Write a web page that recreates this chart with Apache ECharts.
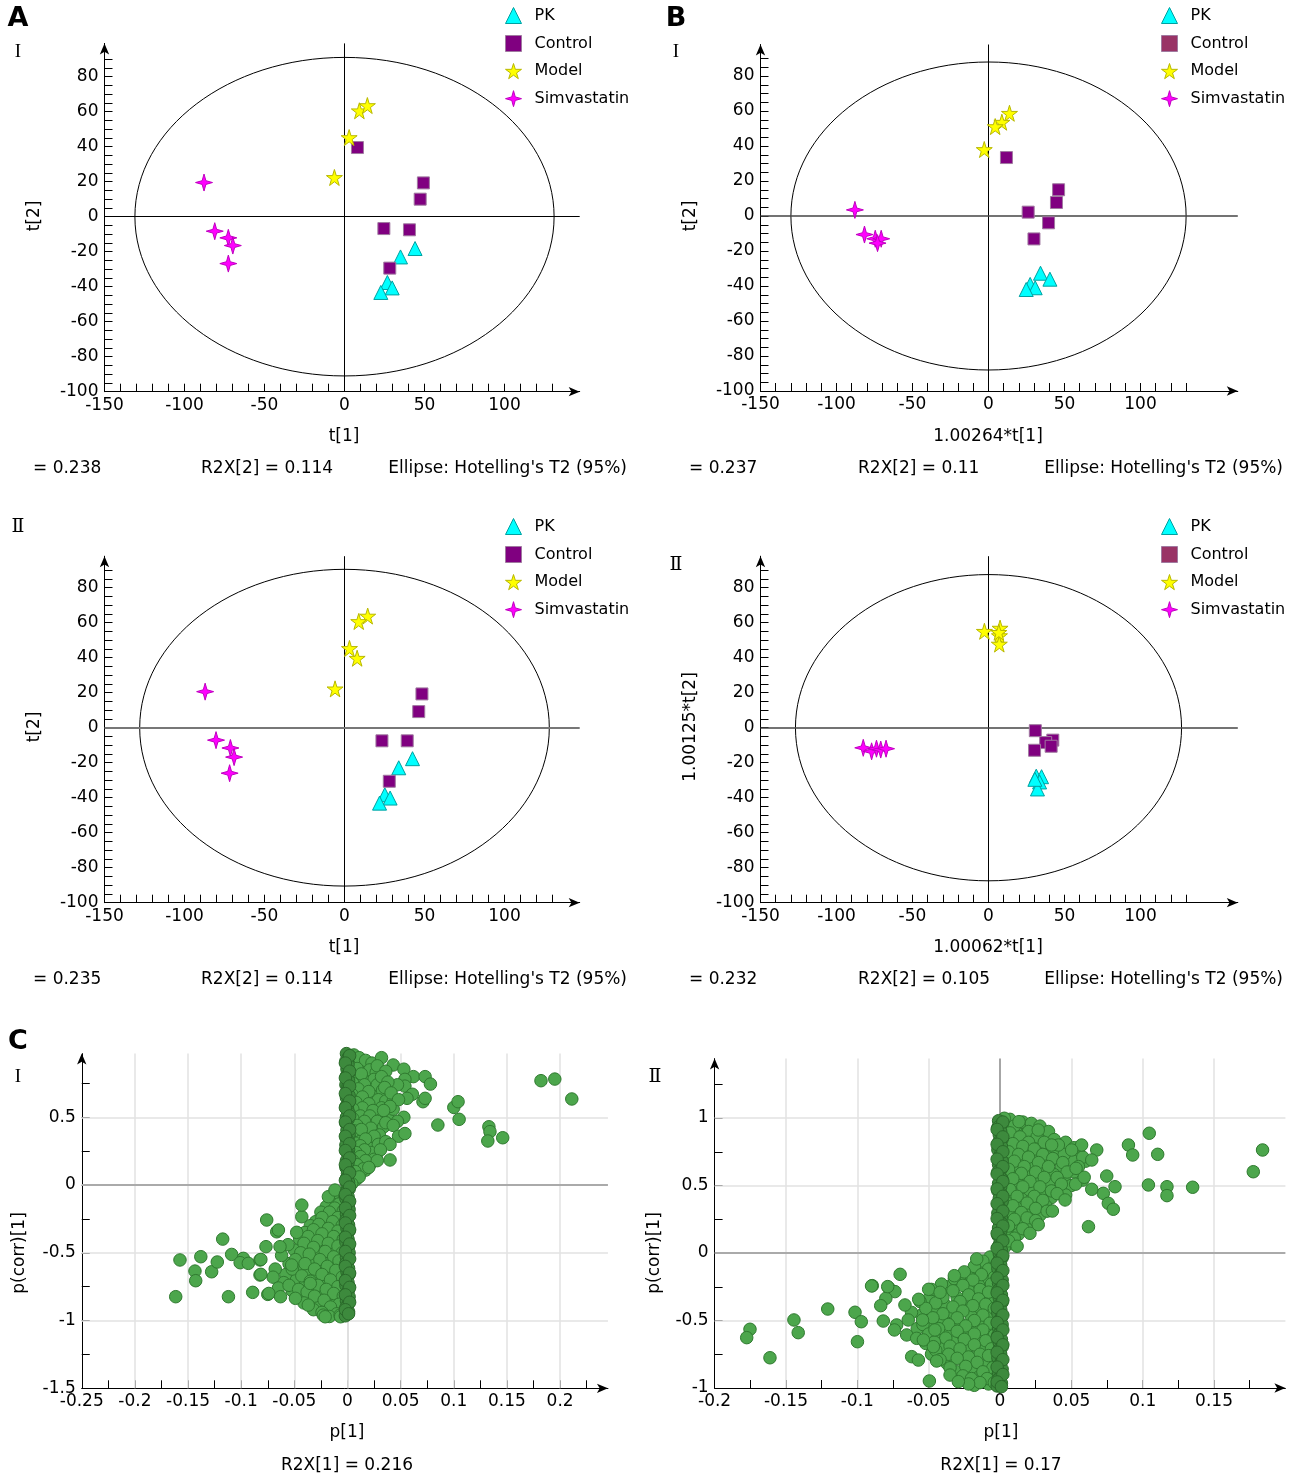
<!DOCTYPE html>
<html>
<head>
<meta charset="utf-8">
<script src="https://cdn.jsdelivr.net/npm/echarts@6/dist/echarts.min.js"></script>
<style>
  html, body { margin: 0; padding: 0; background: #fff; }
  #chart { width: 1296px; height: 1479px; }
</style>
</head>
<body>
<div id="chart"></div>
<script>
// score plots: [t1, t2] per group
const pkA1 = [[44.1, -18.2], [35, -23], [26.8, -37.6], [29.8, -40.7], [22.7, -43.3]];
const controlA1 = [[8.1, 39.5], [49.3, 19.3], [47.3, 10], [24.6, -6.8], [40.6, -7.5], [28.3, -29.4]];
const modelA1 = [[9.3, 60.5], [14.3, 63.5], [2.9, 45.2], [-6.3, 22.4]];
const simvaA1 = [[-87.8, 19.5], [-81.1, -8.3], [-72.6, -12.1], [-69.8, -16.5], [-72.6, -26.8]];

const pkB1 = [[34.2, -32.7], [40.4, -36.1], [27.4, -39.1], [30.7, -41], [24.8, -42]];
const controlB1 = [[11.8, 33.4], [46.1, 15], [44.7, 7.7], [26.1, 2.2], [39.5, -3.9], [29.9, -13.1]];
const modelB1 = [[13.8, 58.7], [8.8, 53.6], [4.4, 51.1], [-2.8, 38]];
const simvaB1 = [[-87.9, 3.5], [-81.6, -10.6], [-74.5, -13], [-70.6, -13], [-73, -15.5]];

const pkA2 = [[42.5, -17.7], [33.9, -22.9], [25.2, -38.3], [28.5, -40.2], [21.9, -43.1]];
const controlA2 = [[48.4, 19.3], [46.4, 9.2], [23.4, -7.5], [39.2, -7.5], [28, -30.6]];
const modelA2 = [[14.5, 63.8], [8.9, 60.7], [3.1, 45.3], [7.9, 39.7], [-5.9, 22.2]];
const simvaA2 = [[-87.1, 20.6], [-80.3, -7.1], [-71.3, -11.6], [-69, -16.8], [-71.8, -26]];

const pkB2 = [[31.4, -27.7], [34.9, -28], [33.6, -31], [32.2, -35], [30.5, -29.5]];
const controlB2 = [[30.8, -1.7], [42.3, -7.1], [37.6, -8.5], [41.2, -10.6], [30.3, -12.9]];
const modelB2 = [[-2.7, 55.1], [7.6, 56.9], [7.2, 52.6], [7.1, 47.8], [6.8, 54.5]];
const simvaB2 = [[-82.4, -11.5], [-76.9, -13.5], [-73.7, -12], [-70.9, -12.5], [-67.4, -12]];

// Hotelling T2 ellipse half-axes [t1, t2]
const ellipseA1 = [131, 91];
const ellipseB1 = [130, 88];
const ellipseA2 = [128, 90.5];
const ellipseB2 = [127, 87.5];

const scoreXTicks = [-150, -140, -130, -120, -110, -100, -90, -80, -70, -60, -50, -40, -30, -20, -10, 0, 10, 20, 30, 40, 50, 60, 70, 80, 90, 100, 110, 120, 130];
const scoreXLabels = [-150, -100, -50, 0, 50, 100];
const scoreYTicks = [-100, -95, -90, -85, -80, -75, -70, -65, -60, -55, -50, -45, -40, -35, -30, -25, -20, -15, -10, -5, 0, 5, 10, 15, 20, 25, 30, 35, 40, 45, 50, 55, 60, 65, 70, 75, 80, 85, 90];
const scoreYLabels = [-100, -80, -60, -40, -20, 0, 20, 40, 60, 80];

// S-plots: [p[1], p(corr)[1]]
const sColumnI = [[-0.001, 0.97], [0.001, 0.945], [-0.0015, 0.915], [0.0005, 0.89], [-0.0005, 0.855], [0.0015, 0.83], [-0.001, 0.805], [0.001, 0.77], [-0.0015, 0.74], [0.0005, 0.725], [-0.0005, 0.69], [0.0015, 0.66], [-0.001, 0.645], [0.001, 0.61], [-0.0015, 0.58], [0, 0.565], [0.0015, 0.53], [-0.001, 0.5], [0.0005, 0.485], [-0.0015, 0.455], [0.001, 0.42], [-0.0005, 0.405], [0.0015, 0.37], [-0.001, 0.34], [0.0005, 0.325], [-0.0015, 0.295], [0.001, 0.26], [-0.0005, 0.245], [0.0015, 0.21], [-0.001, 0.18], [0.0005, 0.165], [-0.0015, 0.13], [0.001, 0.1], [0, 0.085], [-0.001, 0.05], [0.001, 0.02], [-0.0005, 0.005], [0.0015, -0.03], [-0.001, -0.05], [0.0005, -0.085], [-0.0015, -0.1], [0.001, -0.135], [-0.0005, -0.16], [0.0015, -0.18], [-0.001, -0.215], [0.0005, -0.24], [-0.0015, -0.26], [0.001, -0.295], [-0.0005, -0.32], [0.0015, -0.34], [-0.001, -0.375], [0.0005, -0.4], [-0.0015, -0.42], [0.001, -0.455], [-0.0005, -0.48], [0.0015, -0.5], [-0.001, -0.535], [0.0005, -0.56], [-0.0015, -0.58], [0.001, -0.615], [-0.0005, -0.64], [0.0015, -0.66], [-0.001, -0.695], [0.0005, -0.72], [-0.0015, -0.74], [0.001, -0.775], [-0.0005, -0.8], [0.0015, -0.825], [-0.001, -0.855], [0.0005, -0.88], [-0.0015, -0.905], [0.001, -0.935], [-0.002, -0.965]];
const sColumnI2 = [[0.002, 0.955], [-0.002, 0.9], [0.002, 0.84], [-0.002, 0.79], [0.002, 0.73], [-0.002, 0.675], [0.002, 0.62], [-0.002, 0.57], [0.002, 0.51], [-0.002, 0.465], [0.002, 0.41], [-0.002, 0.36], [0.002, 0.305], [-0.002, 0.255], [0.002, 0.2], [-0.002, 0.15], [0.002, 0.09], [-0.002, 0.035], [0.002, -0.015], [-0.002, -0.07], [0.002, -0.12], [-0.002, -0.17], [0.002, -0.225], [-0.002, -0.28], [0.002, -0.33], [-0.002, -0.385], [0.002, -0.435], [-0.002, -0.49], [0.002, -0.545], [-0.002, -0.6], [0.002, -0.65], [-0.002, -0.705], [0.002, -0.755], [-0.002, -0.81], [0.002, -0.865], [-0.002, -0.92], [0.001, -0.95]];
const sUpperI = [[0.004, 0.95], [0.008, 0.93], [0.012, 0.9], [0.006, 0.88], [0.016, 0.87], [0.01, 0.84], [0.004, 0.82], [0.014, 0.8], [0.02, 0.82], [0.007, 0.78], [0.018, 0.76], [0.011, 0.74], [0.004, 0.72], [0.022, 0.72], [0.015, 0.7], [0.008, 0.68], [0.026, 0.69], [0.019, 0.66], [0.005, 0.64], [0.012, 0.62], [0.024, 0.63], [0.03, 0.66], [0.017, 0.6], [0.007, 0.58], [0.021, 0.57], [0.028, 0.59], [0.011, 0.55], [0.004, 0.53], [0.016, 0.52], [0.025, 0.53], [0.009, 0.5], [0.02, 0.48], [0.03, 0.5], [0.006, 0.46], [0.013, 0.45], [0.024, 0.44], [0.004, 0.42], [0.018, 0.41], [0.009, 0.39], [0.027, 0.4], [0.014, 0.37], [0.021, 0.35], [0.005, 0.35], [0.011, 0.32], [0.026, 0.33], [0.017, 0.3], [0.007, 0.28], [0.022, 0.27], [0.013, 0.25], [0.004, 0.24], [0.019, 0.22], [0.009, 0.2], [0.027, 0.22], [0.014, 0.17], [0.021, 0.15], [0.006, 0.14], [0.011, 0.1], [0.017, 0.11], [0.005, 0.07], [0.008, 0.04]];
const sUpperI2 = [[0.006, 0.96], [0.011, 0.94], [0.017, 0.92], [0.023, 0.9], [0.009, 0.86], [0.021, 0.85], [0.027, 0.83], [0.013, 0.82], [0.025, 0.78], [0.031, 0.76], [0.005, 0.75], [0.016, 0.74], [0.028, 0.74], [0.01, 0.71], [0.033, 0.7], [0.02, 0.69], [0.004, 0.67], [0.014, 0.65], [0.029, 0.63], [0.036, 0.62], [0.008, 0.61], [0.02, 0.6], [0.032, 0.57], [0.014, 0.57], [0.005, 0.56], [0.024, 0.55], [0.038, 0.52], [0.012, 0.51], [0.021, 0.51], [0.028, 0.47], [0.005, 0.49], [0.016, 0.47], [0.034, 0.43], [0.009, 0.44], [0.022, 0.42], [0.03, 0.37], [0.006, 0.4], [0.013, 0.41], [0.025, 0.36], [0.017, 0.34], [0.007, 0.31], [0.029, 0.3], [0.012, 0.29], [0.022, 0.24], [0.016, 0.26], [0.008, 0.24], [0.025, 0.19], [0.012, 0.21], [0.005, 0.18], [0.017, 0.18], [0.009, 0.15], [0.015, 0.12], [0.007, 0.1], [0.011, 0.06], [0.004, 0.01]];
const sFringeI = [[0.032, 0.94], [0.043, 0.886], [0.053, 0.855], [0.062, 0.8], [0.054, 0.78], [0.054, 0.73], [0.047, 0.74], [0.061, 0.67], [0.056, 0.64], [0.043, 0.62], [0.043, 0.56], [0.053, 0.5], [0.047, 0.47], [0.036, 0.32], [0.028, 0.88], [0.036, 0.84], [0.032, 0.8], [0.038, 0.76], [0.035, 0.72], [0.041, 0.68], [0.048, 0.63], [0.04, 0.58], [0.034, 0.55], [0.036, 0.46], [0.043, 0.44], [0.048, 0.36], [0.054, 0.38], [0.04, 0.3], [0.031, 0.26], [0.04, 0.185], [0.028, 0.18], [0.02, 0.13], [0.073, 0.8], [0.078, 0.745], [0.071, 0.615], [0.073, 0.64], [0.085, 0.443], [0.1, 0.573], [0.104, 0.615], [0.105, 0.485], [0.133, 0.43], [0.134, 0.394], [0.132, 0.325], [0.146, 0.349], [0.182, 0.77], [0.195, 0.782], [0.211, 0.635]];
const sLowerI = [[-0.005, -0.06], [-0.009, -0.11], [-0.004, -0.15], [-0.014, -0.14], [-0.02, -0.16], [-0.007, -0.2], [-0.012, -0.22], [-0.025, -0.2], [-0.018, -0.25], [-0.004, -0.26], [-0.03, -0.27], [-0.01, -0.29], [-0.022, -0.31], [-0.035, -0.3], [-0.015, -0.34], [-0.006, -0.36], [-0.028, -0.36], [-0.04, -0.35], [-0.019, -0.39], [-0.033, -0.41], [-0.01, -0.42], [-0.045, -0.4], [-0.024, -0.44], [-0.004, -0.46], [-0.038, -0.46], [-0.015, -0.48], [-0.029, -0.5], [-0.05, -0.48], [-0.008, -0.52], [-0.02, -0.54], [-0.042, -0.53], [-0.034, -0.56], [-0.012, -0.57], [-0.026, -0.59], [-0.055, -0.58], [-0.005, -0.61], [-0.046, -0.62], [-0.018, -0.63], [-0.037, -0.65], [-0.009, -0.66], [-0.03, -0.68], [-0.058, -0.66], [-0.022, -0.7], [-0.048, -0.7], [-0.004, -0.72], [-0.014, -0.74], [-0.04, -0.74], [-0.032, -0.77], [-0.007, -0.78], [-0.025, -0.8], [-0.052, -0.78], [-0.017, -0.83], [-0.044, -0.82], [-0.004, -0.85], [-0.035, -0.85], [-0.011, -0.88], [-0.028, -0.89], [-0.02, -0.92], [-0.006, -0.92], [-0.014, -0.95], [-0.06, -0.72], [-0.068, -0.62], [-0.062, -0.52], [-0.056, -0.44], [-0.07, -0.68], [-0.065, -0.76]];
const sLowerI2 = [[-0.003, -0.1], [-0.008, -0.14], [-0.012, -0.17], [-0.004, -0.19], [-0.017, -0.2], [-0.009, -0.24], [-0.024, -0.24], [-0.014, -0.27], [-0.005, -0.3], [-0.027, -0.29], [-0.018, -0.32], [-0.032, -0.33], [-0.009, -0.34], [-0.024, -0.36], [-0.013, -0.38], [-0.037, -0.38], [-0.004, -0.4], [-0.028, -0.41], [-0.018, -0.43], [-0.041, -0.43], [-0.009, -0.45], [-0.032, -0.46], [-0.021, -0.49], [-0.044, -0.5], [-0.005, -0.5], [-0.013, -0.53], [-0.036, -0.51], [-0.026, -0.55], [-0.049, -0.55], [-0.008, -0.56], [-0.019, -0.6], [-0.04, -0.58], [-0.031, -0.62], [-0.052, -0.62], [-0.011, -0.63], [-0.024, -0.66], [-0.043, -0.67], [-0.005, -0.68], [-0.016, -0.7], [-0.035, -0.71], [-0.028, -0.74], [-0.055, -0.74], [-0.009, -0.75], [-0.02, -0.77], [-0.046, -0.77], [-0.038, -0.79], [-0.013, -0.8], [-0.031, -0.82], [-0.004, -0.82], [-0.022, -0.85], [-0.041, -0.87], [-0.008, -0.88], [-0.016, -0.9], [-0.032, -0.92], [-0.024, -0.94], [-0.01, -0.95], [-0.017, -0.97]];
const sTailI = [[-0.1576, -0.553], [-0.1616, -0.824], [-0.138, -0.529], [-0.1435, -0.635], [-0.1428, -0.706], [-0.1278, -0.64], [-0.1225, -0.568], [-0.1174, -0.399], [-0.112, -0.824], [-0.109, -0.512], [-0.098, -0.541], [-0.101, -0.573], [-0.0933, -0.578], [-0.0892, -0.792], [-0.0823, -0.553], [-0.0823, -0.664], [-0.076, -0.258], [-0.0767, -0.455], [-0.075, -0.807], [-0.0666, -0.345], [-0.0635, -0.455], [-0.0525, -0.59], [-0.049, -0.836], [-0.0478, -0.349], [-0.043, -0.234], [-0.043, -0.148], [-0.0369, -0.886], [-0.0228, -0.96], [-0.007, -0.96], [-0.018, -0.086], [-0.0118, -0.037], [-0.065, -0.332], [-0.0815, -0.549], [-0.0815, -0.659], [-0.074, -0.8], [-0.063, -0.824], [-0.035, -0.726], [-0.021, -0.972], [-0.0065, -0.972]];

const sColumnII = [[-0.001, 0.98], [0.001, 0.955], [-0.0015, 0.93], [0.0005, 0.9], [-0.0005, 0.875], [0.0015, 0.845], [-0.001, 0.82], [0.001, 0.79], [-0.0015, 0.765], [0.0005, 0.735], [-0.0005, 0.71], [0.0015, 0.68], [-0.001, 0.655], [0.001, 0.625], [-0.0015, 0.6], [0, 0.57], [0.0015, 0.545], [-0.001, 0.515], [0.0005, 0.49], [-0.0015, 0.46], [0.001, 0.435], [-0.0005, 0.405], [0.0015, 0.38], [-0.001, 0.35], [0.0005, 0.325], [-0.0015, 0.295], [0.001, 0.27], [-0.0005, 0.24], [0.0015, 0.215], [-0.001, 0.185], [0.0005, 0.16], [-0.0015, 0.13], [0.001, 0.105], [0, 0.075], [-0.001, 0.05], [0.001, 0.02], [-0.0005, -0.005], [0.0015, -0.035], [-0.001, -0.06], [0.0005, -0.09], [-0.0015, -0.115], [0.001, -0.145], [-0.0005, -0.17], [0.0015, -0.2], [-0.001, -0.225], [0.0005, -0.255], [-0.0015, -0.28], [0.001, -0.31], [-0.0005, -0.335], [0.0015, -0.365], [-0.001, -0.39], [0.0005, -0.42], [-0.0015, -0.445], [0.001, -0.475], [-0.0005, -0.5], [0.0015, -0.53], [-0.001, -0.555], [0.0005, -0.585], [-0.0015, -0.61], [0.001, -0.64], [-0.0005, -0.665], [0.0015, -0.695], [-0.001, -0.72], [0.0005, -0.75], [-0.0015, -0.775], [0.001, -0.805], [-0.0005, -0.83], [0.0015, -0.86], [-0.001, -0.885], [0.0005, -0.915], [-0.0015, -0.94], [0.001, -0.965], [-0.002, -0.985]];
const sColumnII2 = [[0.002, 0.97], [-0.002, 0.915], [0.002, 0.86], [-0.002, 0.805], [0.002, 0.75], [-0.002, 0.695], [0.002, 0.64], [-0.002, 0.585], [0.002, 0.53], [-0.002, 0.475], [0.002, 0.42], [-0.002, 0.365], [0.002, 0.31], [-0.002, 0.255], [0.002, 0.2], [-0.002, 0.145], [0.002, 0.09], [-0.002, 0.035], [0.002, -0.02], [-0.002, -0.075], [0.002, -0.13], [-0.002, -0.185], [0.002, -0.24], [-0.002, -0.295], [0.002, -0.35], [-0.002, -0.405], [0.002, -0.46], [-0.002, -0.515], [0.002, -0.57], [-0.002, -0.625], [0.002, -0.68], [-0.002, -0.735], [0.002, -0.79], [-0.002, -0.845], [0.002, -0.9], [-0.002, -0.955], [0.001, -0.99]];
const sUpperII = [[0.004, 0.97], [0.009, 0.96], [0.014, 0.95], [0.02, 0.93], [0.025, 0.9], [0.006, 0.92], [0.012, 0.89], [0.018, 0.88], [0.03, 0.88], [0.004, 0.86], [0.009, 0.84], [0.016, 0.83], [0.023, 0.84], [0.035, 0.8], [0.042, 0.8], [0.028, 0.79], [0.005, 0.79], [0.012, 0.77], [0.02, 0.76], [0.033, 0.75], [0.048, 0.76], [0.055, 0.74], [0.04, 0.72], [0.026, 0.71], [0.008, 0.72], [0.015, 0.69], [0.035, 0.68], [0.05, 0.69], [0.06, 0.68], [0.004, 0.66], [0.021, 0.65], [0.043, 0.64], [0.011, 0.62], [0.03, 0.61], [0.052, 0.6], [0.038, 0.58], [0.006, 0.58], [0.018, 0.57], [0.045, 0.55], [0.025, 0.54], [0.058, 0.54], [0.012, 0.52], [0.034, 0.51], [0.05, 0.5], [0.004, 0.5], [0.042, 0.47], [0.02, 0.47], [0.028, 0.44], [0.008, 0.44], [0.036, 0.41], [0.015, 0.4], [0.046, 0.43], [0.024, 0.37], [0.005, 0.37], [0.032, 0.35], [0.012, 0.33], [0.02, 0.3], [0.028, 0.28], [0.006, 0.28], [0.016, 0.24], [0.022, 0.2], [0.009, 0.2], [0.013, 0.14], [0.005, 0.13], [0.008, 0.07], [0.003, 0.04]];
const sUpperII2 = [[0.007, 0.99], [0.016, 0.97], [0.022, 0.96], [0.028, 0.94], [0.01, 0.94], [0.02, 0.9], [0.034, 0.9], [0.007, 0.89], [0.014, 0.86], [0.026, 0.86], [0.038, 0.84], [0.02, 0.82], [0.046, 0.82], [0.031, 0.82], [0.009, 0.81], [0.016, 0.79], [0.039, 0.77], [0.024, 0.77], [0.052, 0.78], [0.006, 0.75], [0.03, 0.73], [0.045, 0.73], [0.013, 0.73], [0.02, 0.71], [0.058, 0.71], [0.037, 0.7], [0.027, 0.67], [0.01, 0.68], [0.044, 0.67], [0.017, 0.64], [0.034, 0.64], [0.055, 0.64], [0.006, 0.62], [0.025, 0.6], [0.047, 0.6], [0.015, 0.59], [0.04, 0.56], [0.031, 0.56], [0.009, 0.55], [0.021, 0.53], [0.053, 0.51], [0.043, 0.51], [0.028, 0.49], [0.016, 0.49], [0.007, 0.47], [0.036, 0.46], [0.024, 0.42], [0.04, 0.44], [0.012, 0.42], [0.03, 0.39], [0.019, 0.37], [0.009, 0.35], [0.025, 0.33], [0.015, 0.3], [0.033, 0.31], [0.01, 0.25], [0.019, 0.26], [0.025, 0.24], [0.006, 0.2], [0.016, 0.18], [0.01, 0.11], [0.006, 0.09], [0.012, 0.05]];
const sFringeII = [[0.1046, 0.887], [0.09, 0.8], [0.093, 0.726], [0.1105, 0.731], [0.104, 0.504], [0.117, 0.491], [0.117, 0.425], [0.135, 0.487], [0.184, 0.763], [0.1775, 0.602], [0.062, 0.195], [0.0748, 0.57], [0.0806, 0.491], [0.0724, 0.442], [0.0759, 0.368], [0.0794, 0.324], [0.0678, 0.763], [0.0643, 0.689], [0.0643, 0.472], [0.059, 0.561], [0.0572, 0.8], [0.0502, 0.763], [0.0533, 0.627], [0.0409, 0.8], [0.0362, 0.8], [0.0456, 0.393], [0.0367, 0.311], [0.021, 0.146], [0.0268, 0.21], [0.0268, 0.911], [0.0133, 0.973], [0.003, 0.998]];
const sLowerII = [[-0.004, -0.05], [-0.01, -0.09], [-0.005, -0.14], [-0.016, -0.13], [-0.022, -0.17], [-0.009, -0.2], [-0.028, -0.21], [-0.015, -0.24], [-0.036, -0.25], [-0.004, -0.27], [-0.022, -0.28], [-0.044, -0.3], [-0.011, -0.31], [-0.03, -0.33], [-0.018, -0.35], [-0.05, -0.34], [-0.005, -0.37], [-0.039, -0.38], [-0.025, -0.4], [-0.013, -0.42], [-0.046, -0.42], [-0.033, -0.44], [-0.006, -0.45], [-0.02, -0.47], [-0.055, -0.46], [-0.04, -0.49], [-0.012, -0.5], [-0.028, -0.52], [-0.048, -0.53], [-0.004, -0.54], [-0.018, -0.56], [-0.036, -0.57], [-0.058, -0.56], [-0.009, -0.59], [-0.026, -0.61], [-0.044, -0.61], [-0.015, -0.64], [-0.033, -0.66], [-0.005, -0.67], [-0.052, -0.67], [-0.022, -0.69], [-0.04, -0.71], [-0.011, -0.72], [-0.03, -0.74], [-0.017, -0.77], [-0.048, -0.75], [-0.004, -0.79], [-0.025, -0.8], [-0.037, -0.82], [-0.01, -0.84], [-0.02, -0.87], [-0.03, -0.88], [-0.006, -0.9], [-0.015, -0.92], [-0.024, -0.95], [-0.008, -0.97], [-0.018, -0.98]];
const sLowerII2 = [[-0.007, -0.03], [-0.012, -0.06], [-0.018, -0.1], [-0.008, -0.12], [-0.025, -0.14], [-0.013, -0.16], [-0.004, -0.18], [-0.019, -0.2], [-0.032, -0.19], [-0.006, -0.23], [-0.026, -0.24], [-0.041, -0.23], [-0.014, -0.27], [-0.033, -0.28], [-0.048, -0.27], [-0.008, -0.29], [-0.022, -0.31], [-0.04, -0.33], [-0.015, -0.34], [-0.028, -0.36], [-0.056, -0.36], [-0.01, -0.38], [-0.045, -0.37], [-0.033, -0.4], [-0.019, -0.39], [-0.004, -0.41], [-0.052, -0.41], [-0.026, -0.43], [-0.04, -0.45], [-0.012, -0.46], [-0.062, -0.44], [-0.03, -0.48], [-0.047, -0.48], [-0.018, -0.5], [-0.007, -0.52], [-0.036, -0.53], [-0.024, -0.54], [-0.054, -0.53], [-0.012, -0.57], [-0.043, -0.56], [-0.03, -0.58], [-0.018, -0.6], [-0.05, -0.6], [-0.004, -0.61], [-0.038, -0.63], [-0.025, -0.64], [-0.01, -0.65], [-0.046, -0.66], [-0.018, -0.68], [-0.035, -0.69], [-0.028, -0.71], [-0.006, -0.71], [-0.045, -0.72], [-0.014, -0.75], [-0.036, -0.75], [-0.022, -0.77], [-0.008, -0.76], [-0.042, -0.79], [-0.03, -0.78], [-0.016, -0.81], [-0.035, -0.85], [-0.024, -0.84], [-0.005, -0.85], [-0.012, -0.88], [-0.026, -0.91], [-0.02, -0.93], [-0.009, -0.93], [-0.014, -0.96], [-0.004, -0.96], [-0.022, -0.97]];
const sTailII = [[-0.0163, -0.044], [-0.032, -0.168], [-0.07, -0.158], [-0.0895, -0.242], [-0.078, -0.257], [-0.0736, -0.286], [-0.08, -0.336], [-0.0836, -0.39], [-0.05, -0.269], [-0.042, -0.291], [-0.057, -0.343], [-0.0666, -0.385], [-0.0818, -0.504], [-0.0724, -0.533], [-0.074, -0.57], [-0.0654, -0.607], [-0.0584, -0.632], [-0.0537, -0.644], [-0.0619, -0.768], [-0.0572, -0.793], [-0.0495, -0.948], [-0.0444, -0.8], [-0.035, -0.904], [-0.0292, -0.953], [-0.0467, -0.694], [-0.0456, -0.57], [-0.0643, -0.496], [-0.0543, -0.496], [-0.1016, -0.439], [-0.0972, -0.509], [-0.0999, -0.657], [-0.1207, -0.415], [-0.1444, -0.496], [-0.1414, -0.59], [-0.1612, -0.776], [-0.1752, -0.565], [-0.1775, -0.627], [-0.09, -0.244], [-0.0787, -0.249]];

const sXTicksI = [-0.25, -0.225, -0.2, -0.175, -0.15, -0.125, -0.1, -0.075, -0.05, -0.025, 0, 0.025, 0.05, 0.075, 0.1, 0.125, 0.15, 0.175, 0.2, 0.225];
const sXLabelsI = [-0.25, -0.2, -0.15, -0.1, -0.05, 0, 0.05, 0.1, 0.15, 0.2];
const sYTicksI = [-1.5, -1.25, -1, -0.75, -0.5, -0.25, 0, 0.25, 0.5, 0.75];
const sYLabelsI = [-1.5, -1, -0.5, 0, 0.5];
const sXTicksII = [-0.2, -0.175, -0.15, -0.125, -0.1, -0.075, -0.05, -0.025, 0, 0.025, 0.05, 0.075, 0.1, 0.125, 0.15, 0.175];
const sXLabelsII = [-0.2, -0.15, -0.1, -0.05, 0, 0.05, 0.1, 0.15];
const sYTicksII = [-1, -0.75, -0.5, -0.25, 0, 0.25, 0.5, 0.75, 1, 1.25];
const sYLabelsII = [-1, -0.5, 0, 0.5, 1];
const sGridXI = [-0.2, -0.15, -0.1, -0.05, 0, 0.05, 0.1, 0.15, 0.2];
const sGridYI = [0.5, -0.5, -1];
const sGridXII = [-0.15, -0.1, -0.05, 0.05, 0.1, 0.15];
const sGridYII = [1, 0.5, -0.5];

const FONT = '"DejaVu Sans", Verdana, sans-serif';
const SERIF = '"Liberation Serif", "DejaVu Serif", "Noto Sans CJK SC", serif';
const STAR5 = 'path://M50,0L61,35L98,35L68,57L79,91L50,70L21,91L32,57L2,35L39,35Z';
const STAR4 = 'path://M50,0L61,39L100,50L61,61L50,100L39,61L0,50L39,39Z';

const groups = [
    { name: 'PK', symbol: 'triangle', size: 14, color: '#00ffff', border: '#00a0a0' },
    { name: 'Control', symbol: 'rect', size: 12, color: '#800080', border: '#a07aa0' },
    { name: 'Model', symbol: STAR5, size: 16, color: '#ffff00', border: '#b8b800' },
    { name: 'Simvastatin', symbol: STAR4, size: 17, color: '#ff00ff', border: '#c000c0' }
];

const scorePanels = [
    { grid: { left: 104.5, top: 43.4, width: 475.2, height: 348.3 }, xMax: 147, yMax: 99,
      data: [pkA1, controlA1, modelA1, simvaA1], ellipse: ellipseA1, hLine: { color: '#000', width: 1 } },
    { grid: { left: 760.5, top: 44.5, width: 477.3, height: 346.5 }, xMax: 164, yMax: 98,
      data: [pkB1, controlB1, modelB1, simvaB1], ellipse: ellipseB1, hLine: { color: '#444', width: 1.5 } },
    { grid: { left: 104.5, top: 556.2, width: 475.2, height: 346.5 }, xMax: 147, yMax: 98,
      data: [pkA2, controlA2, modelA2, simvaA2], ellipse: ellipseA2, hLine: { color: '#777', width: 2 } },
    { grid: { left: 760.5, top: 556.2, width: 477.3, height: 346.5 }, xMax: 164, yMax: 98,
      data: [pkB2, controlB2, modelB2, simvaB2], ellipse: ellipseB2, hLine: { color: '#444', width: 1.5 } }
];

const sPanels = [
    { grid: { left: 81.75, top: 1053.6, width: 526.2, height: 334.7 }, x: [-0.25, 0.245], y: [-1.5, 0.97],
      ticks: [sXTicksI, sXLabelsI, sYTicksI, sYLabelsI], lines: [sGridXI, sGridYI], zeroX: '#dddddd',
      data: [].concat(sLowerI, sLowerI2, sTailI, sUpperI, sUpperI2, sFringeI),
      column: [].concat(sColumnI, sColumnI2) },
    { grid: { left: 714.6, top: 1058.6, width: 570.8, height: 329.4 }, x: [-0.2, 0.2], y: [-1, 1.44],
      ticks: [sXTicksII, sXLabelsII, sYTicksII, sYLabelsII], lines: [sGridXII, sGridYII], zeroX: '#888888',
      data: [].concat(sLowerII, sLowerII2, sTailII, sUpperII, sUpperII2, sFringeII),
      column: [].concat(sColumnII, sColumnII2) }
];

function axisPair(i, xr, yr, t) {
    const line = { show: true, onZero: false, symbol: ['none', 'arrow'], symbolSize: [7, 11], lineStyle: { color: '#000', width: 1 } };
    const label = { fontSize: 17, fontFamily: FONT, color: '#000', showMinLabel: true, showMaxLabel: true };
    return [
        { type: 'value', gridIndex: i, min: xr[0], max: xr[1], axisLine: line, splitLine: { show: false },
          axisTick: { show: true, inside: true, length: 8, customValues: t[0], lineStyle: { color: '#000' } },
          axisLabel: Object.assign({ customValues: t[1], margin: 5 }, label) },
        { type: 'value', gridIndex: i, min: yr[0], max: yr[1], axisLine: line, splitLine: { show: false },
          axisTick: { show: true, inside: true, length: 8, customValues: t[2], lineStyle: { color: '#000' } },
          axisLabel: Object.assign({ customValues: t[3], margin: 6 }, label) }
    ];
}

const grids = [], xAxes = [], yAxes = [], series = [];

scorePanels.forEach((p, i) => {
    grids.push(p.grid);
    const ax = axisPair(i, [-150, p.xMax], [-100, p.yMax], [scoreXTicks, scoreXLabels, scoreYTicks, scoreYLabels]);
    xAxes.push(ax[0]);
    yAxes.push(ax[1]);
    series.push({
        type: 'custom', xAxisIndex: i, yAxisIndex: i, z: 2, silent: true,
        data: [p.ellipse],
        renderItem: (params, api) => {
            const c = api.coord([0, 0]);
            const s = api.size([api.value(0), api.value(1)]);
            return { type: 'ellipse', shape: { cx: c[0], cy: c[1], rx: s[0], ry: s[1] },
                     style: { fill: 'none', stroke: '#000', lineWidth: 1 } };
        },
        markLine: {
            silent: true, symbol: ['none', 'none'], label: { show: false }, animation: false,
            lineStyle: { color: '#000', width: 1, type: 'solid' },
            data: [{ xAxis: 0 }, { yAxis: 0, lineStyle: Object.assign({ type: 'solid' }, p.hLine) }]
        }
    });
    groups.forEach((g, k) => {
        series.push({
            type: 'scatter', name: g.name, xAxisIndex: i, yAxisIndex: i, z: 6,
            data: p.data[k], symbol: g.symbol, symbolSize: g.size,
            itemStyle: { color: g.color, borderColor: g.border, borderWidth: 1, opacity: 1 }
        });
    });
});

sPanels.forEach((p, j) => {
    const i = scorePanels.length + j;
    grids.push(p.grid);
    const ax = axisPair(i, p.x, p.y, p.ticks);
    xAxes.push(ax[0]);
    yAxes.push(ax[1]);
    const light = { color: '#e2e2e2', width: 1.5, type: 'solid' };
    const lines = p.lines[0].map(v => ({ xAxis: v }))
        .concat(p.lines[1].map(v => ({ yAxis: v })))
        .concat([{ xAxis: 0, lineStyle: { color: p.zeroX, width: 1.5, type: 'solid' } },
                 { yAxis: 0, lineStyle: { color: '#aaaaaa', width: 2, type: 'solid' } }]);
    series.push({
        type: 'scatter', name: 'S-plot ' + (j + 1), xAxisIndex: i, yAxisIndex: i, z: 6, clip: false,
        data: p.data, symbol: 'circle', symbolSize: 12.5,
        itemStyle: { color: '#4ca64c', borderColor: '#2f7a2f', borderWidth: 1, opacity: 1 },
        markLine: { silent: true, symbol: ['none', 'none'], label: { show: false }, animation: false,
                    lineStyle: light, data: lines }
    });
    series.push({
        type: 'scatter', name: 'S-plot core ' + (j + 1), xAxisIndex: i, yAxisIndex: i, z: 7, clip: false,
        data: p.column, symbol: 'circle', symbolSize: 12.5,
        itemStyle: { color: '#3d8a3d', borderColor: '#2a6a2a', borderWidth: 1, opacity: 1 }
    });
});

const legendSpots = [[505, 7, '#800080'], [1161, 7, '#993366'], [505, 518, '#800080'], [1161, 518, '#993366']];
const legends = legendSpots.map(s => ({
    orient: 'vertical', left: s[0], top: s[1], padding: 0, itemWidth: 16, itemHeight: 16, itemGap: 11,
    selectedMode: false,
    textStyle: { fontSize: 16, fontFamily: FONT, color: '#000', padding: [0, 0, 0, 8] },
    data: groups.map(g => ({ name: g.name, icon: g.symbol,
        itemStyle: { color: g.name === 'Control' ? s[2] : g.color, borderColor: g.border, borderWidth: 1 } }))
}));

function txt(x, y, text, opt) {
    opt = opt || {};
    return {
        type: 'text', x: x, y: y, rotation: opt.rot || 0, silent: true,
        style: { text: text, font: opt.font || ('17px ' + FONT), fill: '#000',
                 align: opt.align || 'center', verticalAlign: 'middle',
                 textAlign: opt.align || 'center', textVerticalAlign: 'middle' }
    };
}
const V = Math.PI / 2;
const bold = 'bold 27px ' + FONT;
const roman = '19px ' + SERIF;

const texts = [
    txt(18, 19, 'A', { font: bold }), txt(676, 19, 'B', { font: bold }), txt(18, 1042, 'C', { font: bold }),
    txt(18, 52, 'I', { font: roman }), txt(676, 52, 'I', { font: roman }),
    txt(18, 527, 'Ⅱ', { font: roman }), txt(676, 565, 'Ⅱ', { font: roman }),
    txt(18, 1077, 'I', { font: roman }), txt(655, 1077, 'Ⅱ', { font: roman }),

    txt(344, 437, 't[1]'), txt(35, 216, 't[2]', { rot: V }),
    txt(988, 437, '1.00264*t[1]'), txt(691, 216, 't[2]', { rot: V }),
    txt(344, 948, 't[1]'), txt(35, 727, 't[2]', { rot: V }),
    txt(988, 948, '1.00062*t[1]'), txt(691, 727, '1.00125*t[2]', { rot: V }),
    txt(347, 1433, 'p[1]'), txt(20, 1253, 'p(corr)[1]', { rot: V }),
    txt(1001, 1433, 'p[1]'), txt(655, 1253, 'p(corr)[1]', { rot: V }),

    txt(33, 469, '= 0.238', { align: 'left' }), txt(201, 469, 'R2X[2] = 0.114', { align: 'left' }),
    txt(627, 469, "Ellipse: Hotelling's T2 (95%)", { align: 'right' }),
    txt(689, 469, '= 0.237', { align: 'left' }), txt(858, 469, 'R2X[2] = 0.11', { align: 'left' }),
    txt(1283, 469, "Ellipse: Hotelling's T2 (95%)", { align: 'right' }),
    txt(33, 980, '= 0.235', { align: 'left' }), txt(201, 980, 'R2X[2] = 0.114', { align: 'left' }),
    txt(627, 980, "Ellipse: Hotelling's T2 (95%)", { align: 'right' }),
    txt(689, 980, '= 0.232', { align: 'left' }), txt(858, 980, 'R2X[2] = 0.105', { align: 'left' }),
    txt(1283, 980, "Ellipse: Hotelling's T2 (95%)", { align: 'right' }),
    txt(347, 1466, 'R2X[1] = 0.216'), txt(1001, 1466, 'R2X[1] = 0.17')
];

const chart = echarts.init(document.getElementById('chart'), null, { renderer: 'canvas' });
chart.setOption({
    backgroundColor: '#fff',
    animation: false,
    grid: grids,
    xAxis: xAxes,
    yAxis: yAxes,
    legend: legends,
    series: series,
    graphic: { elements: texts }
});
</script>
</body>
</html>
